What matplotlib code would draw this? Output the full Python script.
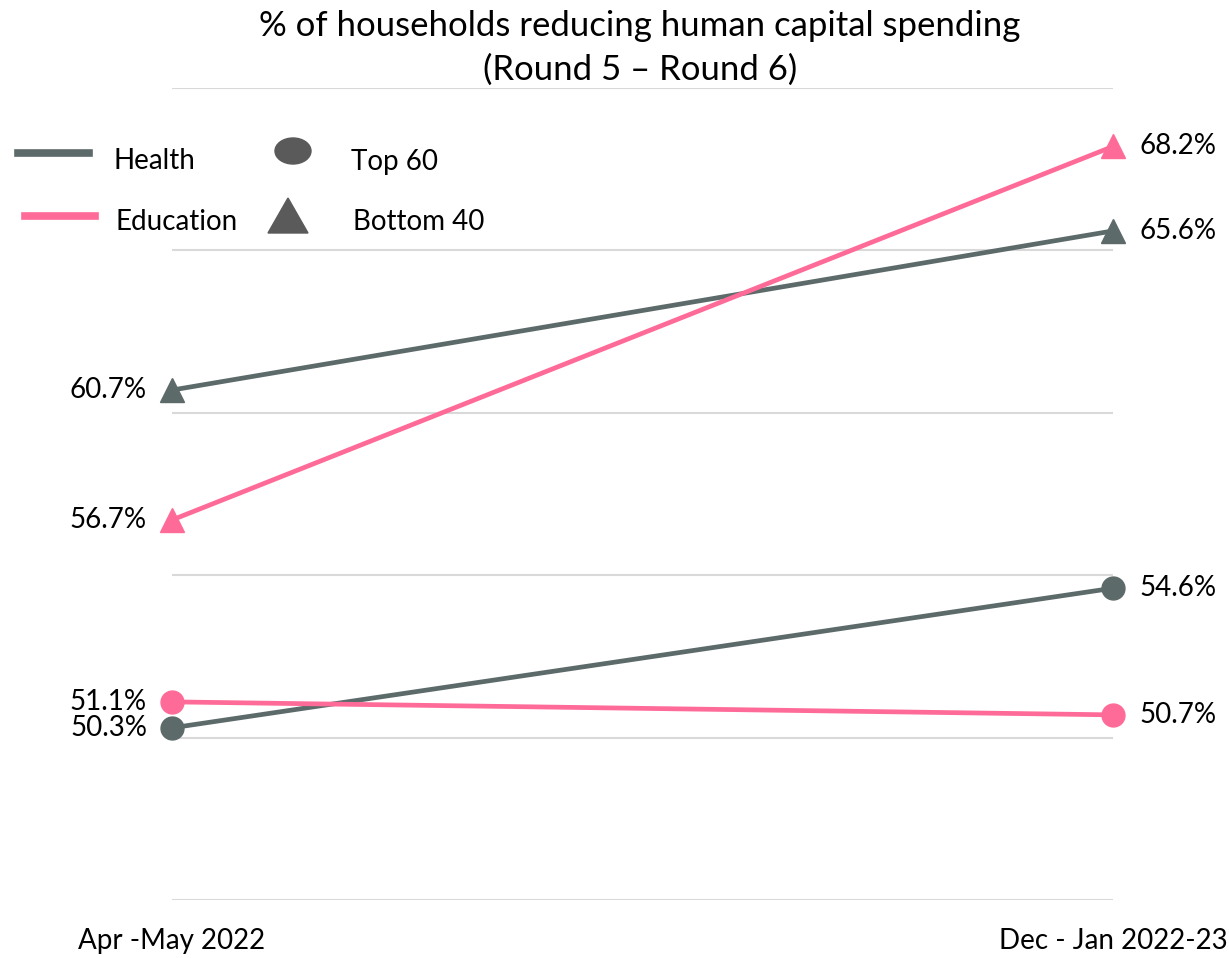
import matplotlib.pyplot as plt
from matplotlib.lines import Line2D
from matplotlib.patches import Ellipse, Polygon

plt.rcParams['font.family'] = ['Lato', 'DejaVu Sans']

periods = ['Apr -May 2022', 'Dec - Jan 2022-23']
health_top60 = [50.3, 54.6]
health_bottom40 = [60.7, 65.6]
edu_top60 = [51.1, 50.7]
edu_bottom40 = [56.7, 68.2]

gray = '#5d6a6a'
pink = '#ff6b98'
legend_gray = '#5a5a5a'

W, H = 1229, 958
fig = plt.figure(figsize=(W / 100, H / 100), dpi=100)
ax = fig.add_axes([172 / W, 1 - 900 / H, (1113 - 172) / W, (900 - 88) / H])

x = [0, 1]
series = [
    (health_bottom40, gray, '^'),
    (edu_bottom40, pink, '^'),
    (health_top60, gray, 'o'),
    (edu_top60, pink, 'o'),
]
for vals, col, mk in series:
    ax.plot(x, vals, color=col, lw=3.4, marker=mk, markersize=16.5 if mk == 'o' else 17,
            clip_on=False, zorder=3)
    ax.annotate(f'{vals[0]:.1f}%', (0, vals[0]), xytext=(-18, 0), textcoords='offset points',
                ha='right', va='center', fontsize=20)
    ax.annotate(f'{vals[1]:.1f}%', (1, vals[1]), xytext=(19, 0), textcoords='offset points',
                ha='left', va='center', fontsize=20)

ax.set_xlim(0, 1)
ax.set_ylim(45, 70)
ax.set_yticks(range(45, 71, 5))
ax.yaxis.grid(True, color='#d9d9d9', lw=1.5)
ax.set_axisbelow(True)
ax.tick_params(axis='y', left=False, labelleft=False)
ax.set_xticks(x)
ax.set_xticklabels(periods, fontsize=20)
ax.tick_params(axis='x', length=0, pad=20)
for s in ax.spines.values():
    s.set_visible(False)

fig.text(640 / W, 1 - 10 / H, '% of households reducing human capital spending\n(Round 5 – Round 6)',
         ha='center', va='top', fontsize=25, linespacing=1.45)

# legend drawn by hand in pixel coordinates
def fx(px):
    return px / W

def fy(py):
    return 1 - py / H

fig.add_artist(Line2D([fx(18), fx(89)], [fy(153), fy(153)], color=gray, lw=5.5,
                      transform=fig.transFigure))
fig.add_artist(Line2D([fx(25), fx(95)], [fy(216), fy(216)], color=pink, lw=5.5,
                      transform=fig.transFigure))
fig.add_artist(Ellipse((fx(293), fy(151)), 36 / W, 26 / H, color=legend_gray,
                       transform=fig.transFigure))
fig.add_artist(Polygon([(fx(268), fy(233)), (fx(308), fy(233)), (fx(288), fy(198))],
                       closed=True, color=legend_gray, transform=fig.transFigure))
legend_text = [('Health', 113, 169), ('Education', 115, 230),
               ('Top 60', 351, 170), ('Bottom 40', 353, 230)]
for txt, px, py in legend_text:
    fig.text(fx(px), fy(py), txt, ha='left', va='baseline', fontsize=20)

fig.savefig('out.png', dpi=100)
